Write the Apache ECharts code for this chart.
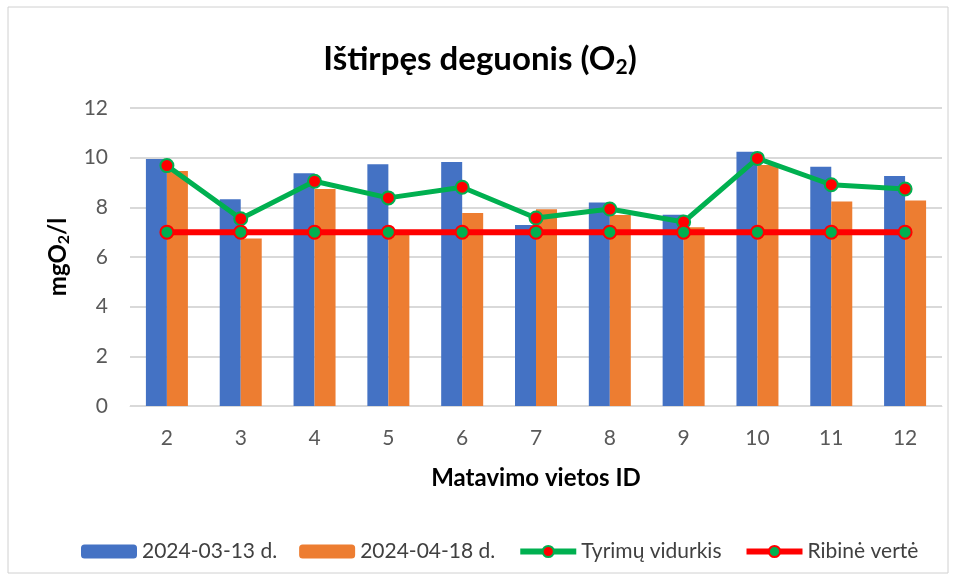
<!DOCTYPE html>
<html>
<head>
<meta charset="utf-8">
<script src="https://cdn.jsdelivr.net/npm/echarts@6/dist/echarts.min.js"></script>
<style>
  html, body { margin: 0; padding: 0; background: #fff; }
  #chart { width: 960px; height: 579px; }
</style>
</head>
<body>
<div id="chart"></div>
<script>
// duomenys
var categories = ["2", "3", "4", "5", "6", "7", "8", "9", "10", "11", "12"];
var march = [9.95, 8.33, 9.37, 9.73, 9.83, 7.29, 8.19, 7.70, 10.24, 9.63, 9.26];
var april = [9.46, 6.75, 8.74, 7.03, 7.77, 7.92, 7.69, 7.20, 9.70, 8.23, 8.28];
var average = [9.68, 7.54, 9.05, 8.38, 8.81, 7.57, 7.93, 7.41, 9.97, 8.91, 8.74];
var limit = [7, 7, 7, 7, 7, 7, 7, 7, 7, 7, 7];
var seriesNames = ["2024-03-13 d.", "2024-04-18 d.", "Tyrimų vidurkis", "Ribinė vertė"];

var font = "Lato, 'Open Sans', sans-serif";
var myChart = echarts.init(document.getElementById("chart"));

var option = {
    animation: false,
    textStyle: { fontFamily: font },
    title: {
        text: "{a|Ištirpęs deguonis (O}{s|2}{a|)}",
        left: "center",
        top: 36,
        textStyle: {
            rich: {
                a: { fontSize: 33, fontWeight: "bold", color: "#000", fontFamily: font },
                s: { fontSize: 21, fontWeight: "bold", color: "#000", fontFamily: font, padding: [16, 0, 0, 0] }
            }
        }
    },
    graphic: [{
        type: "rect",
        shape: { x: 8, y: 7, width: 940, height: 566 },
        style: { fill: "none", stroke: "#d0d0d0", lineWidth: 1 },
        silent: true
    }],
    legend: {
        top: 536,
        left: 76,
        itemWidth: 56,
        itemHeight: 14,
        itemGap: 22,
        textStyle: { fontSize: 21, color: "#404040", fontFamily: font },
        data: [
            { name: seriesNames[0] },
            { name: seriesNames[1] },
            { name: seriesNames[2], lineStyle: { width: 6 } },
            { name: seriesNames[3], lineStyle: { width: 6 } }
        ]
    },
    grid: { left: 130, right: 18, top: 108, bottom: 173 },
    xAxis: {
        type: "category",
        data: categories,
        name: "Matavimo vietos ID",
        nameLocation: "middle",
        nameGap: 60,
        nameTextStyle: { fontSize: 24, fontWeight: "bold", color: "#000" },
        axisLine: { lineStyle: { color: "#d9d9d9", width: 1 } },
        axisTick: { show: false },
        axisLabel: { fontSize: 21, color: "#595959", margin: 22 }
    },
    yAxis: {
        type: "value",
        min: 0,
        max: 12,
        interval: 2,
        name: "{a|mgO}{s|2}{a|/l}",
        nameLocation: "middle",
        nameGap: 58,
        nameRotate: 90,
        nameTextStyle: {
            rich: {
                a: { fontSize: 24, fontWeight: "bold", color: "#000", fontFamily: font },
                s: { fontSize: 16, fontWeight: "bold", color: "#000", fontFamily: font, padding: [11, 0, 0, 0] }
            }
        },
        axisLabel: { fontSize: 21, color: "#595959", margin: 22 },
        splitLine: { lineStyle: { color: "#d9d9d9", width: 2 } }
    },
    series: [
        {
            name: seriesNames[0],
            type: "bar",
            data: march,
            barWidth: 21,
            barGap: "0%",
            itemStyle: { color: "#4472C4" }
        },
        {
            name: seriesNames[1],
            type: "bar",
            data: april,
            barWidth: 21,
            itemStyle: { color: "#ED7D31" }
        },
        {
            name: seriesNames[2],
            type: "line",
            data: average,
            symbol: "circle",
            symbolSize: 13,
            lineStyle: { color: "#00B050", width: 5 },
            itemStyle: { color: "#FF0000", borderColor: "#00B050", borderWidth: 2 },
            z: 4
        },
        {
            name: seriesNames[3],
            type: "line",
            data: limit,
            symbol: "circle",
            symbolSize: 13,
            lineStyle: { color: "#FF0000", width: 6 },
            itemStyle: { color: "#00B050", borderColor: "#FF0000", borderWidth: 2 },
            z: 5
        }
    ]
};

myChart.setOption(option);
</script>
</body>
</html>
